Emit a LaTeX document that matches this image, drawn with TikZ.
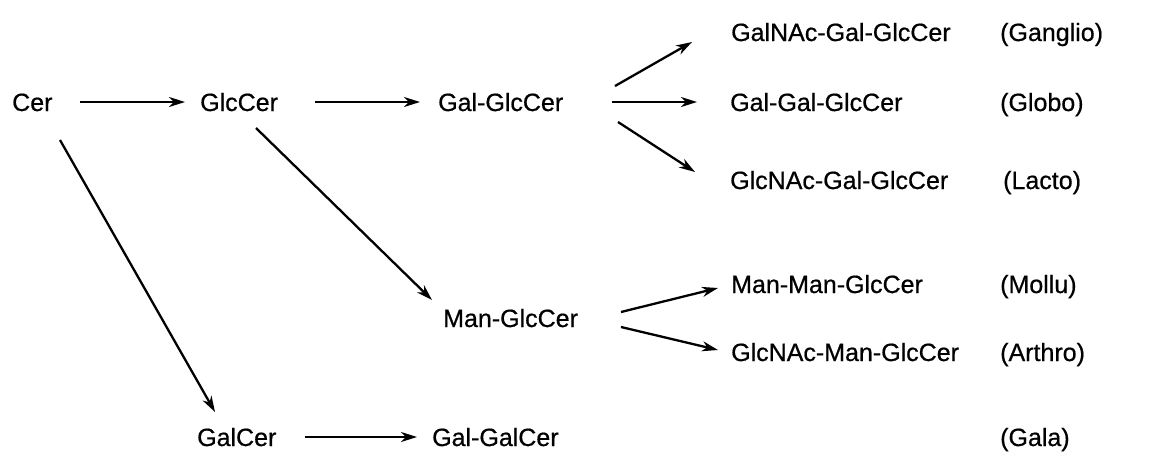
\documentclass[tikz,border=0pt]{standalone}
\usepackage{fontspec}
\setmainfont[FakeBold=0.6]{Liberation Sans}
\usetikzlibrary{arrows.meta,calc}
\tikzset{
  lbl/.style={anchor=base west,inner sep=0pt,font=\fontsize{25}{29}\selectfont},
  arr/.style={line width=2.3pt,-{Stealth[length=16pt,width=10pt,inset=5pt]}}
}
\begin{document}
\begin{tikzpicture}[x=1pt,y=-1pt]
\useasboundingbox[fill=white] (0,0) rectangle (1162,461);
\node[lbl] (cer) at (12,111) {Cer};
\node[lbl] (glccer) at (200,111) {GlcCer};
\node[lbl] (galglc) at (438,111) {Gal-GlcCer};
\node[lbl] (ganglio) at (731,41) {GalNAc-Gal-GlcCer};
\node[lbl] (ganglioL) at (1000,41) {(Ganglio)};
\node[lbl] (globo) at (730,111) {Gal-Gal-GlcCer};
\node[lbl] (globoL) at (1000,111) {(Globo)};
\node[lbl] (lacto) at (730,189) {GlcNAc-Gal-GlcCer};
\node[lbl] (lactoL) at (1003,189) {(Lacto)};
\node[lbl] (manglc) at (443,327) {Man-GlcCer};
\node[lbl] (mollu) at (731,293) {Man-Man-GlcCer};
\node[lbl] (molluL) at (1000,293) {(Mollu)};
\node[lbl] (arthro) at (731,361) {GlcNAc-Man-GlcCer};
\node[lbl] (arthroL) at (1000,361) {(Arthro)};
\node[lbl] (galcer) at (197,446) {GalCer};
\node[lbl] (galgal) at (432,446) {Gal-GalCer};
\node[lbl] (galaL) at (1000,446) {(Gala)};

\draw[arr] ($(cer.base west)+(68,-9)$) -- ($(glccer.base west)+(-15,-9)$);
\draw[arr] ($(glccer.base west)+(115,-9)$) -- ($(galglc.base west)+(-18,-9)$);
\draw[arr] ($(galglc.base west)+(177,-25)$) -- ($(ganglio.base west)+(-39,1)$);
\draw[arr] ($(galglc.base west)+(174,-9)$) -- ($(globo.base west)+(-33,-9)$);
\draw[arr] ($(galglc.base west)+(180,11)$) -- ($(lacto.base west)+(-35,-17)$);
\draw[arr] ($(cer.base west)+(48,29)$) -- ($(galcer.base west)+(18,-34)$);
\draw[arr] ($(glccer.base west)+(56,17)$) -- ($(manglc.base west)+(-11,-27)$);
\draw[arr] ($(manglc.base west)+(178,-15)$) -- ($(mollu.base west)+(-13,-5)$);
\draw[arr] ($(manglc.base west)+(178,0)$) -- ($(arthro.base west)+(-13,-11)$);
\draw[arr] ($(galcer.base west)+(108,-9)$) -- ($(galgal.base west)+(-15,-9)$);
\end{tikzpicture}
\end{document}
